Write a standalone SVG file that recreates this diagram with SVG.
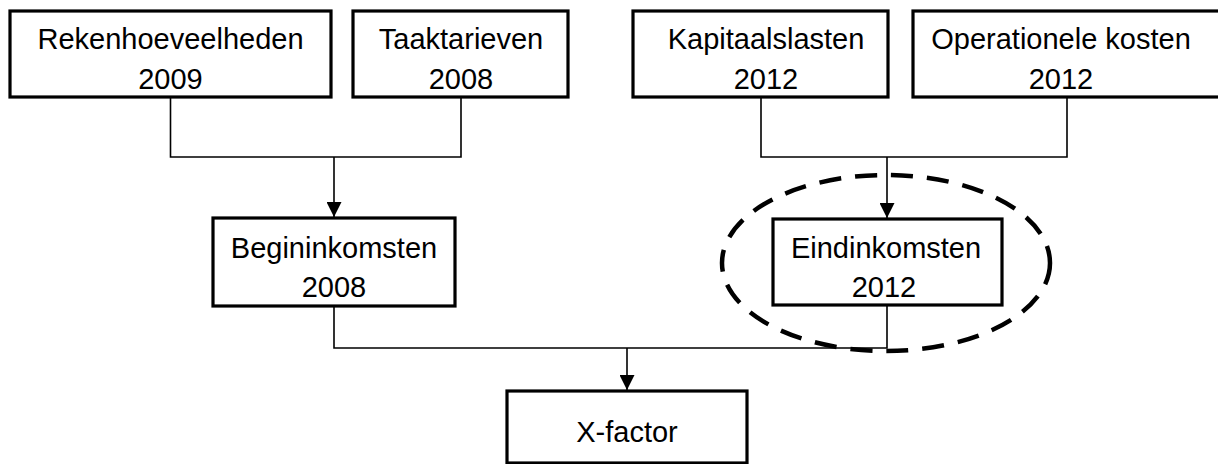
<svg xmlns="http://www.w3.org/2000/svg" width="1218" height="464" viewBox="0 0 1218 464">
<style>
.box{fill:#fff;stroke:#000;stroke-width:3.2}
.t{font-family:"Liberation Sans",Arial,sans-serif;font-size:29px;fill:#000;text-anchor:middle}
.c{fill:none;stroke:#000;stroke-width:1.6}
</style>
<defs>
<marker id="ah" markerWidth="15" markerHeight="15" viewBox="0 0 15 15" refX="15" refY="7.5" orient="auto" markerUnits="userSpaceOnUse">
<path d="M0,0 L15,7.5 L0,15 Z" fill="#000"/>
</marker>
</defs>
<rect width="1218" height="464" fill="#fff"/>
<g id="connectors">
<path class="c" d="M170.5,97 V157 H461 V97"/>
<path class="c" d="M334,157 V217" marker-end="url(#ah)"/>
<path class="c" d="M761,97 V157 H1067 V97"/>
<path class="c" d="M887,157 V218" marker-end="url(#ah)"/>
<path class="c" d="M334,306 V348 H887 V305"/>
<path class="c" d="M627,348 V390" marker-end="url(#ah)"/>
</g>
<g id="n1"><rect class="box" x="10" y="11" width="321" height="86"/><text class="t" x="170.5" y="49">Rekenhoeveelheden</text><text class="t" x="170.5" y="89">2009</text></g>
<g id="n2"><rect class="box" x="353" y="11" width="215" height="86"/><text class="t" x="461" y="49">Taaktarieven</text><text class="t" x="461" y="89">2008</text></g>
<g id="n3"><rect class="box" x="633" y="11" width="255" height="86"/><text class="t" x="766" y="49">Kapitaalslasten</text><text class="t" x="766" y="89">2012</text></g>
<g id="n4"><rect class="box" x="913" y="11" width="310" height="86"/><text class="t" x="1061" y="49">Operationele kosten</text><text class="t" x="1061" y="89">2012</text></g>
<g id="n5"><rect class="box" x="213" y="218" width="242" height="88"/><text class="t" x="334" y="258">Begininkomsten</text><text class="t" x="334" y="297">2008</text></g>
<g id="n6"><rect class="box" x="773" y="219" width="229" height="86"/><text class="t" x="886" y="258">Eindinkomsten</text><text class="t" x="884" y="297">2012</text></g>
<g id="n7"><rect class="box" x="507" y="391" width="240" height="72"/><text class="t" x="627" y="442">X-factor</text></g>
<g id="highlight"><ellipse cx="886" cy="263" rx="164" ry="88" fill="none" stroke="#000" stroke-width="4.5" stroke-dasharray="22 14"/></g>
</svg>
